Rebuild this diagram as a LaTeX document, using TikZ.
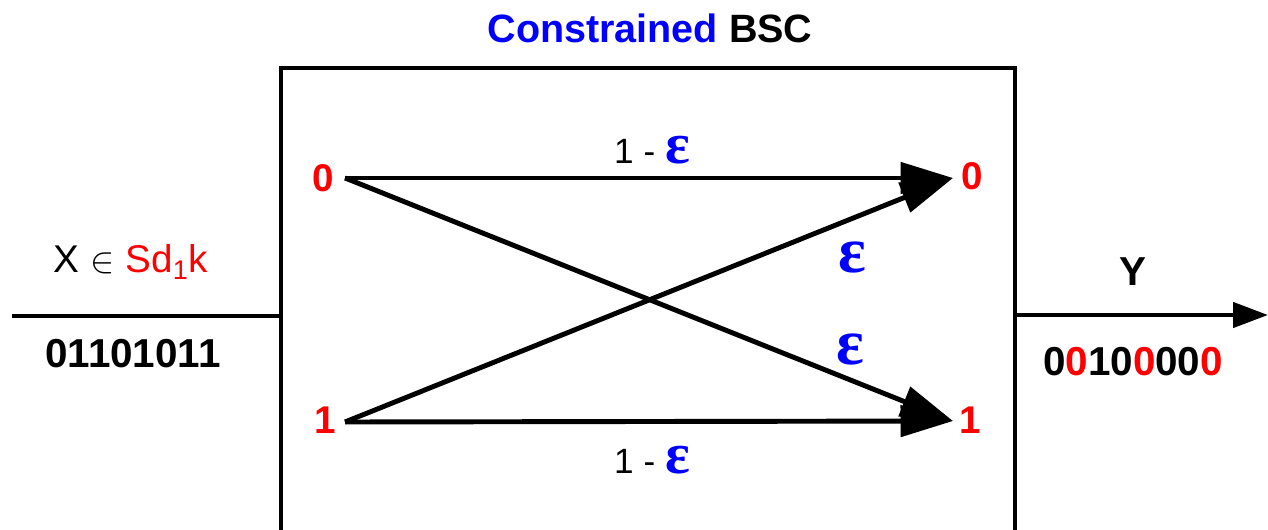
\documentclass[tikz,border=0pt]{standalone}
\usepackage{fontspec}
\setmainfont{Liberation Sans}
\newfontfamily\epsfont{Liberation Serif}
\usetikzlibrary{arrows.meta}
\definecolor{myblue}{RGB}{0,0,255}
\definecolor{myred}{RGB}{255,0,0}
\begin{document}
\begin{tikzpicture}[x=0.02cm,y=-0.02cm,
  bit/.style={font=\fontsize{22}{26}\selectfont\bfseries, text=myred, inner sep=0pt},
  bits/.style={font=\fontsize{23}{26}\selectfont\bfseries, inner sep=0pt},
  lbl/.style={font=\fontsize{20}{24}\selectfont, inner sep=0pt},
  eps/.style={font=\fontsize{37}{40}\epsfont\bfseries, text=myblue, inner sep=0pt},
  chan/.style={line width=2.8pt, -{Triangle[length=1.05cm,width=0.62cm]}},
  wire/.style={line width=2.6pt},
  outarrow/.style={line width=2.6pt, -{Triangle[length=0.7cm,width=0.5cm]}},
]
\useasboundingbox (0,0) rectangle (1268,530);
% channel box (open at bottom, cut by the picture edge)
\draw[wire] (281,530) -- (281,68) -- (1015,68) -- (1015,530);
% title
\node[font=\fontsize{22.5}{26}\selectfont\bfseries, inner sep=0pt] (title) at (650,28)
  {\textcolor{myblue}{Constrained} BSC};
% input and output wires
\coordinate (inL) at (12,316);
\coordinate (inR) at (281,316);
\coordinate (outL) at (1015,315);
\coordinate (outR) at (1268,315);
\draw[wire] (inL) -- (inR);
\draw[outarrow] (outL) -- (outR);
% input labels
\node[font=\fontsize{22}{24}\selectfont, inner sep=0pt] (xlab) at (131,262)
  {X {\fontsize{21}{22}\selectfont$\in$} \textcolor{myred}{Sd\textsubscript{1}k}};
\node[bits] (xbits) at (133,354) {01101011};
% output labels
\node[bits] (ylab) at (1133,272) {Y};
\node[bits] (ybits) at (1133,362)
  {0\textcolor{myred}{0}10\textcolor{myred}{0}00\textcolor{myred}{0}};
% channel symbols
\node[bit] (l0) at (323,178) {0};
\node[bit] (l1) at (325,420) {1};
\node[bit] (r0) at (972,176) {0};
\node[bit] (r1) at (970,420) {1};
\coordinate (s0) at (345,178);
\coordinate (s1) at (345,422);
\coordinate (t0) at (953,178);
\coordinate (t1) at (953,421);
\draw[chan] (s0) -- (t0);
\draw[chan] (s1) -- (t1);
\draw[chan] (s0) -- (t1);
\draw[chan] (s1) -- (t0);
% probabilities
\node[lbl] (p00) at (652,150) {1 - \textcolor{myblue}{\epsfont\bfseries\fontsize{33}{36}\selectfont ε}};
\node[lbl] (p11) at (652,460) {1 - \textcolor{myblue}{\epsfont\bfseries\fontsize{33}{36}\selectfont ε}};
\node[eps] (p10) at (852,258) {ε};
\node[eps] (p01) at (850,350) {ε};
\end{tikzpicture}
\end{document}
